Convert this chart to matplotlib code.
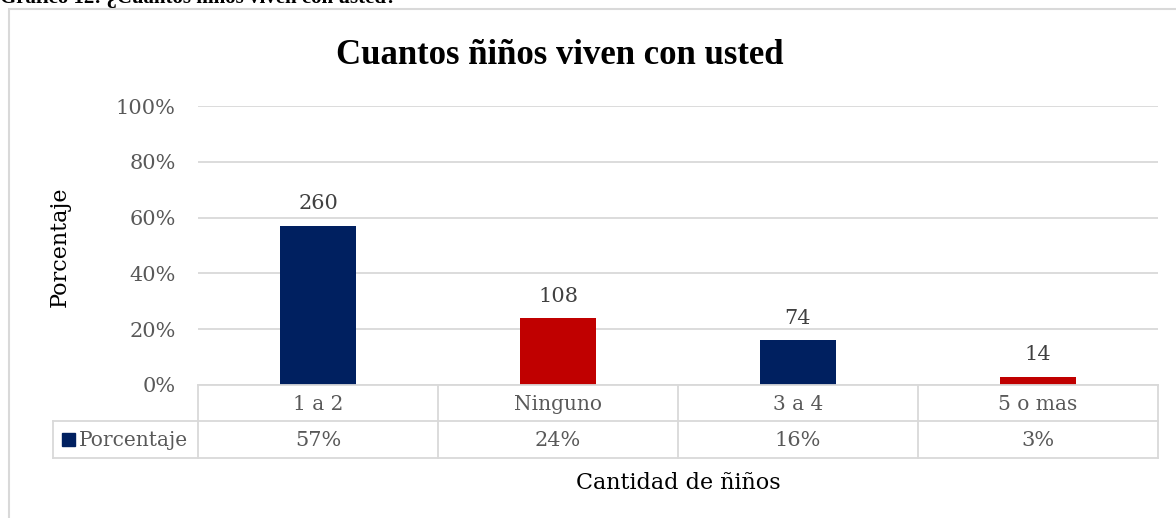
import matplotlib
matplotlib.use("Agg")
import matplotlib.pyplot as plt
from matplotlib.lines import Line2D
from matplotlib.patches import Rectangle
from matplotlib.transforms import blended_transform_factory

categories = ["1 a 2", "Ninguno", "3 a 4", "5 o mas"]
percentages = [0.57, 0.24, 0.16, 0.03]
counts = [260, 108, 74, 14]
pct_labels = ["57%", "24%", "16%", "3%"]
yticks = [0, 0.2, 0.4, 0.6, 0.8, 1.0]
ytick_labels = ["0%", "20%", "40%", "60%", "80%", "100%"]

NAVY = "#002060"
RED = "#C00000"
GRID = "#D9D9D9"
TXT = "#595959"
SERIF = ["DejaVu Serif"]

W, H = 1176, 518
fig = plt.figure(figsize=(W / 100, H / 100), dpi=100)

def fy(py):
    return 1 - py / H

def fx(px):
    return px / W

# chart border (extends beyond right/bottom edges)
fig.add_artist(Rectangle((fx(9), fy(600)), fx(1300), fy(9) - fy(600),
                         transform=fig.transFigure, fill=False,
                         edgecolor=GRID, linewidth=1.5))

# caption above (cut off, as in the reference)
fig.text(fx(0), fy(3), "Gráfico 12: ¿Cuantos niños viven con usted?",
         family=["Liberation Serif"], fontweight="bold", fontsize=15,
         va="baseline", ha="left", color="black")

left, right, top, bottom = 198, 1158, 106, 385
ax = fig.add_axes([fx(left), fy(bottom), fx(right - left), fy(top) - fy(bottom)])
x = list(range(len(categories)))
colors = [NAVY, RED, NAVY, RED]
ax.bar(x, percentages, width=0.317, color=colors, zorder=3)
ax.set_xlim(-0.5, len(categories) - 0.5)
ax.set_ylim(0, 1.0)
ax.set_yticks(yticks)
ax.set_yticklabels(ytick_labels, family=SERIF, fontsize=15, color=TXT)
ax.tick_params(axis="y", length=0, pad=16)
ax.set_xticks([])
for s in ax.spines.values():
    s.set_visible(False)
ax.grid(axis="y", color=GRID, linewidth=1.3, zorder=0)
ax.set_axisbelow(True)

for xi, p, c in zip(x, percentages, counts):
    ax.annotate(str(c), (xi, p), xytext=(0, 9), textcoords="offset points",
                ha="center", va="bottom", family=SERIF, fontsize=15, color="#404040")

# data table
trans = blended_transform_factory(ax.transData, fig.transFigure)
row1_top, row1_bot, row2_bot = 385, 421, 458
lw = 1.3
for yy in (row1_top, row1_bot, row2_bot):
    fig.add_artist(Line2D([-0.5, len(categories) - 0.5], [fy(yy), fy(yy)],
                          transform=trans, color=GRID, linewidth=lw))
for i in range(len(categories) + 1):
    xb = i - 0.5
    fig.add_artist(Line2D([xb, xb], [fy(row1_top), fy(row2_bot)],
                          transform=trans, color=GRID, linewidth=lw))
for xi, cat, pl in zip(x, categories, pct_labels):
    fig.text(xi, fy((row1_top + row1_bot) / 2 + 1), cat, transform=trans,
             ha="center", va="center", family=SERIF, fontsize=14.5, color=TXT)
    fig.text(xi, fy((row1_bot + row2_bot) / 2 + 1), pl, transform=trans,
             ha="center", va="center", family=SERIF, fontsize=15, color=TXT)
# legend cell
fig.add_artist(Line2D([fx(53), fx(198)], [fy(row1_bot), fy(row1_bot)],
                      transform=fig.transFigure, color=GRID, linewidth=lw))
fig.add_artist(Line2D([fx(53), fx(198)], [fy(row2_bot), fy(row2_bot)],
                      transform=fig.transFigure, color=GRID, linewidth=lw))
fig.add_artist(Line2D([fx(53), fx(53)], [fy(row1_bot), fy(row2_bot)],
                      transform=fig.transFigure, color=GRID, linewidth=lw))
fig.add_artist(Rectangle((fx(62), fy(446)), fx(13), fy(433) - fy(446),
                         transform=fig.transFigure, color=NAVY))
fig.text(fx(79), fy((row1_bot + row2_bot) / 2 + 1), "Porcentaje", ha="left", va="center",
         family=SERIF, fontsize=14.5, color=TXT)

# title and axis labels
fig.text(fx(560), fy(55), "Cuantos ñiños viven con usted", ha="center", va="center",
         family=["Liberation Serif"], fontweight="bold", fontsize=25, color="black")
fig.text(fx(60), fy(247), "Porcentaje", rotation=90, ha="center", va="center",
         family=SERIF, fontsize=16, color="black")
fig.text(fx(678), fy(483), "Cantidad de ñiños", ha="center", va="center",
         family=SERIF, fontsize=16, color="black")

fig.savefig("out.png", dpi=100)
